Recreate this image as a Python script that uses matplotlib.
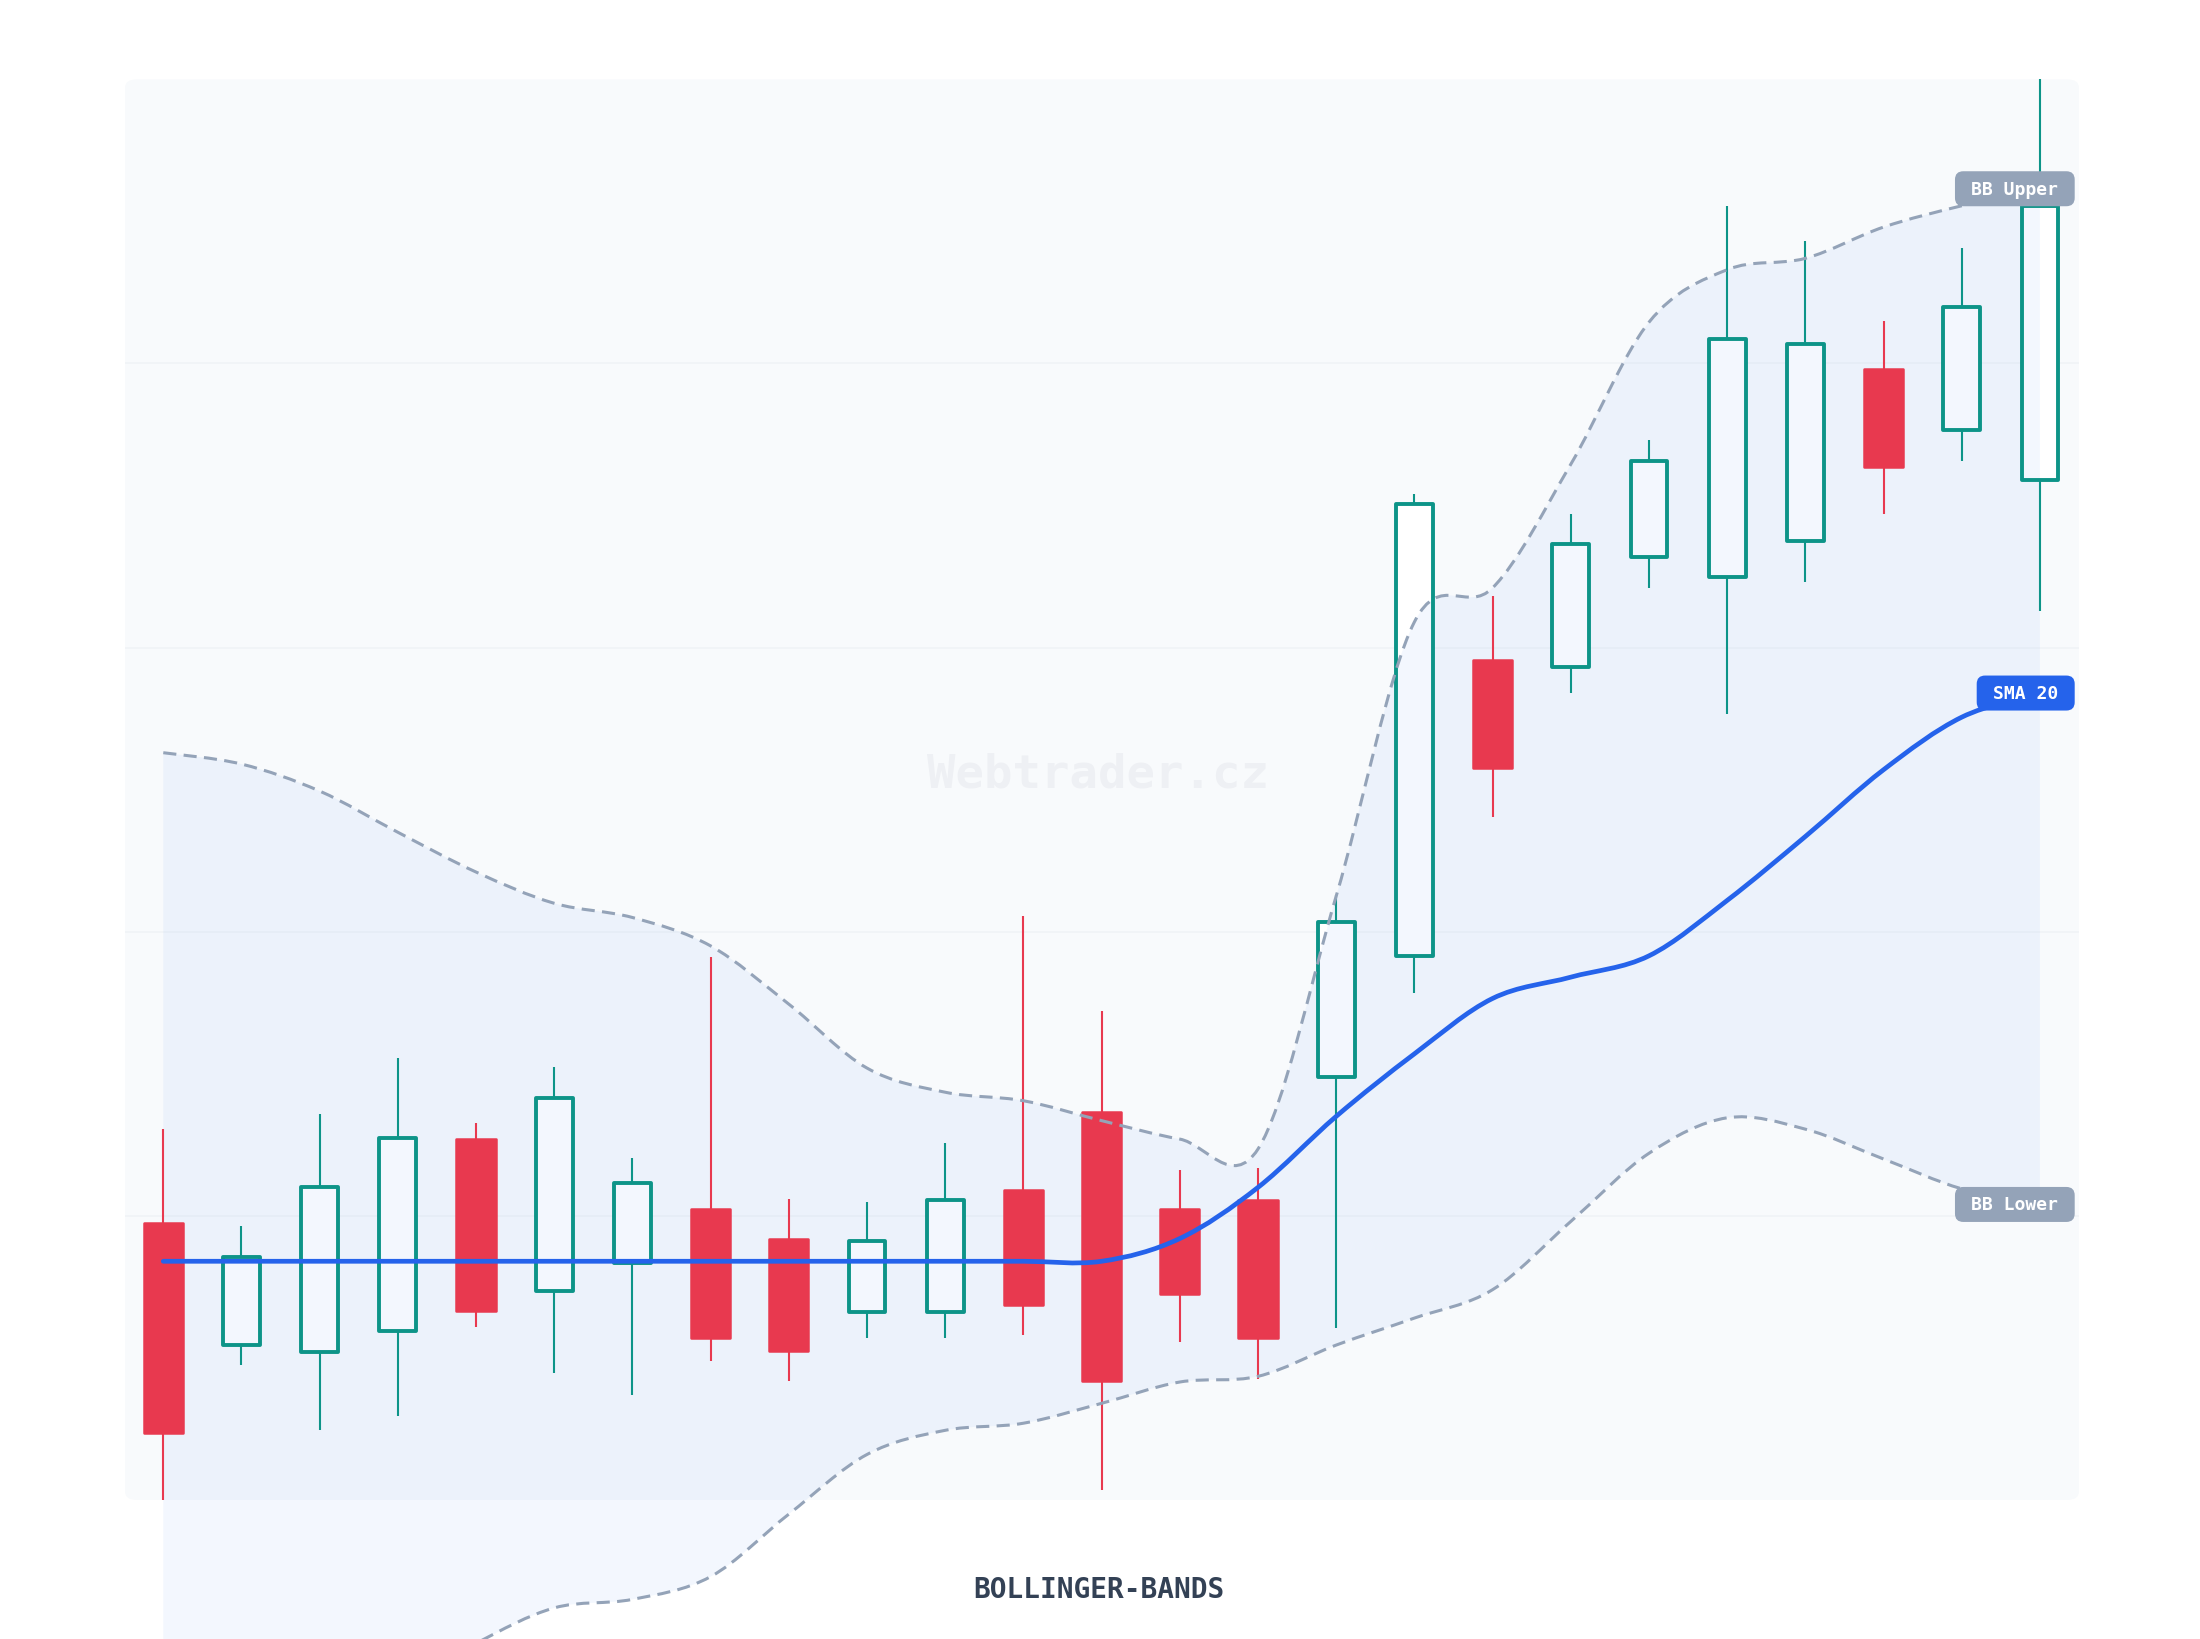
import matplotlib
matplotlib.use("Agg")
import matplotlib.pyplot as plt
import matplotlib.transforms as mtransforms
from matplotlib.path import Path
from matplotlib.patches import PathPatch, Rectangle, FancyBboxPatch
import numpy as np

# candle data (price units, 25 sessions)
opens = [19.5, 10.9, 10.4, 11.9, 25.4, 14.7, 16.7, 20.5, 18.4, 13.2, 13.2, 21.8, 27.3,
         20.5, 21.1, 29.8, 38.3, 59.1, 58.6, 66.4, 65.0, 67.5, 79.6, 75.3, 71.8]
highs = [26.1, 19.3, 27.2, 31.1, 26.5, 30.5, 24.1, 38.2, 21.2, 21.0, 25.1, 41.1, 34.4,
         23.2, 23.4, 42.6, 70.8, 63.6, 69.4, 74.6, 91.1, 88.6, 83.0, 88.1, 100.0]
lows = [0.0, 9.5, 4.9, 5.9, 12.2, 8.9, 7.4, 9.8, 8.4, 11.4, 11.4, 11.6, 0.7,
        11.1, 8.5, 12.1, 35.7, 48.1, 56.8, 64.2, 55.3, 64.6, 69.4, 73.1, 62.6]
closes = [4.7, 17.1, 22.0, 25.5, 13.3, 28.3, 22.3, 11.4, 10.5, 18.2, 21.1, 13.7, 8.4,
          14.5, 11.4, 40.7, 70.1, 51.5, 67.3, 73.1, 81.7, 81.4, 72.7, 84.0, 91.1]

sma20 = [16.8, 16.8, 16.8, 16.8, 16.8, 16.8, 16.8, 16.8, 16.8, 16.8, 16.8, 16.8, 16.8,
         18.4, 22.0, 27.0, 31.4, 35.3, 36.8, 38.3, 42.2, 46.7, 51.4, 55.1, 56.8]
bb_upper = [52.6, 51.8, 49.9, 47.0, 44.2, 42.0, 41.0, 39.0, 34.9, 30.4, 28.7, 28.1, 26.7,
            25.4, 24.7, 42.5, 61.8, 64.2, 72.9, 82.9, 86.6, 87.4, 89.6, 91.1, 92.3]
bb_lower = [-19.1, -18.3, -16.3, -13.4, -10.1, -7.6, -7.0, -5.4, -1.0, 3.2, 4.9, 5.4, 6.8,
            8.3, 8.7, 10.9, 12.8, 14.8, 19.6, 24.4, 26.9, 26.1, 24.0, 21.9, 20.8]

GREEN = "#0d9488"
RED = "#e8394f"
BAND = "#94a3b8"
BLUE = "#2563eb"
MONO = "DejaVu Sans Mono"


def smooth(xs, ys):
    # catmull-rom through the points, as cubic bezier segments
    pts = np.column_stack([xs, ys]).astype(float)
    n = len(pts)
    verts = [pts[0]]
    codes = [Path.MOVETO]
    for i in range(n - 1):
        p0 = pts[max(i - 1, 0)]
        p1 = pts[i]
        p2 = pts[i + 1]
        p3 = pts[min(i + 2, n - 1)]
        verts += [p1 + (p2 - p0) / 6, p2 - (p3 - p1) / 6, p2]
        codes += [Path.CURVE4] * 3
    return verts, codes


x = np.arange(len(opens))

fig = plt.figure(figsize=(11, 8.2), dpi=200, facecolor="white")
ax = fig.add_axes([0.0568, 0.0848, 0.8882, 0.8662])
ax.set_xlim(-0.49, 24.5)
ax.set_ylim(0, 100)
ax.patch.set_visible(False)
for s in ax.spines.values():
    s.set_visible(False)
ax.set_xticks([])
ax.set_yticks([])

ax.add_patch(FancyBboxPatch((0, 0), 1, 1, boxstyle="round,pad=0,rounding_size=0.006",
                            transform=ax.transAxes, fc="#f8fafc", ec="none", zorder=0))
for g in [20, 40, 60, 80]:
    ax.axhline(g, color="#f0f3f7", lw=0.6, zorder=0.5)

ax.text(0.498, 0.511, "Webtrader.cz", transform=ax.transAxes, ha="center", va="center",
        fontsize=17, fontweight="bold", family=MONO, color="#eef0f4", zorder=1)

# candles: hollow faces sit under the band fill, strokes above it
for i in x:
    o, h, l, c = opens[i], highs[i], lows[i], closes[i]
    lo, hi = min(o, c), max(o, c)
    up = c >= o
    col = GREEN if up else RED
    ax.plot([i, i], [hi, h], color=col, lw=0.75, solid_capstyle="butt", zorder=4.5)
    ax.plot([i, i], [l, lo], color=col, lw=0.75, solid_capstyle="butt", zorder=4.5)
    if up:
        w = 0.47
        ax.add_patch(Rectangle((i - w / 2, lo), w, hi - lo, fc="white", ec="none", zorder=3))
        ax.add_patch(Rectangle((i - w / 2, lo), w, hi - lo, fill=False, ec=col,
                               lw=1.4, joinstyle="round", zorder=4.6))
    else:
        w = 0.5
        ax.add_patch(Rectangle((i - w / 2, lo), w, hi - lo, fc=col, ec=col,
                               lw=0.9, joinstyle="round", zorder=4.6))

# bollinger band fill
vu, cu = smooth(x, bb_upper)
vl, cl = smooth(x[::-1], bb_lower[::-1])
cl[0] = Path.LINETO
fill_path = Path(vu + vl + [vu[0]], cu + cl + [Path.CLOSEPOLY])
ax.add_patch(PathPatch(fill_path, fc="#3b82f6", alpha=0.06, ec="none",
                       clip_on=False, zorder=4))

for vals in (bb_upper, bb_lower):
    v, c = smooth(x, vals)
    ax.add_patch(PathPatch(Path(v, c), fill=False, ec=BAND, lw=1.1,
                           linestyle=(0, (4.3, 2.4)), clip_on=False, zorder=5))

v, c = smooth(x, sma20)
ax.add_patch(PathPatch(Path(v, c), fill=False, ec=BLUE, lw=1.7,
                       capstyle="round", zorder=6))

# end labels: box sized in points, anchored at right edge of plot
trans = mtransforms.blended_transform_factory(ax.transAxes, ax.transData)
fs = 6.5
box_h = 12.6
for label, val, fc in [("BB Upper", bb_upper[-1], BAND),
                       ("SMA 20", sma20[-1], BLUE),
                       ("BB Lower", bb_lower[-1], BAND)]:
    box_w = len(label) * 0.602 * fs + 11.8
    anchor = mtransforms.ScaledTranslation(0.9978, val, trans)
    btrans = mtransforms.Affine2D().scale(1 / 72) + fig.dpi_scale_trans + anchor
    # remove the figure-origin offset introduced by dpi_scale_trans chain
    ax.add_patch(FancyBboxPatch((-box_w, -box_h / 2), box_w, box_h,
                                boxstyle="round,pad=0,rounding_size=3",
                                transform=btrans, fc=fc, ec="none",
                                clip_on=False, zorder=8))
    ax.annotate(label, xy=(0.9978, val), xycoords=trans,
                xytext=(-box_w / 2, 0), textcoords="offset points",
                ha="center", va="center", fontsize=fs, fontweight="bold",
                family=MONO, color="white", zorder=9, annotation_clip=False)

fig.text(0.4995, 0.0305, "BOLLINGER-BANDS", ha="center", va="center", fontsize=10,
         fontweight="bold", family=MONO, color="#334155")

fig.savefig("out.png", dpi=200, facecolor="white")
